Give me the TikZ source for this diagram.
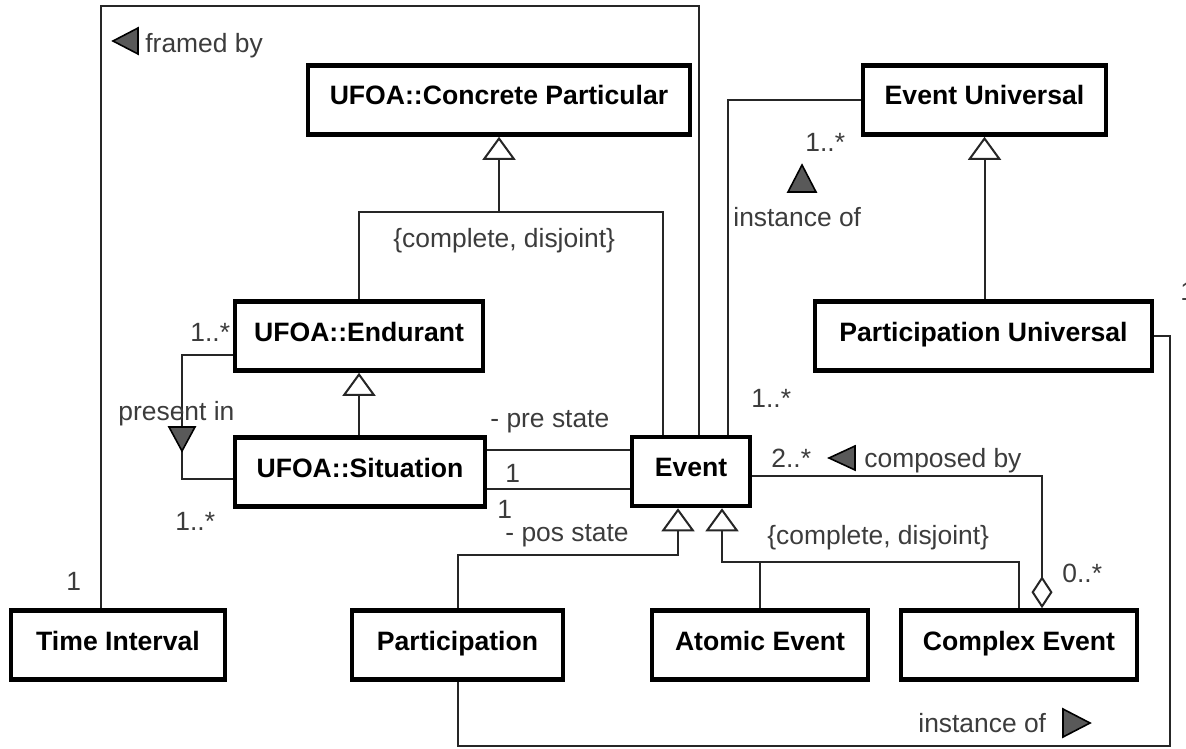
\documentclass[tikz,border=0pt]{standalone}
\usepackage{fontspec}
\setmainfont{Liberation Sans}
\usetikzlibrary{arrows.meta}
\definecolor{lblc}{HTML}{3C3C3C}
\begin{document}
\begin{tikzpicture}[x=0.5pt,y=-0.5pt,
  cls/.style={draw, line width=2.3pt, inner sep=0pt, minimum height=34.5pt,
    text height=9.5pt, text depth=4.5pt,
    font=\fontsize{13.3}{15}\selectfont\bfseries, text=black, fill=white},
  lbl/.style={inner sep=0pt, font=\fontsize{13.2}{15}\selectfont, text=lblc, anchor=base west},
  conn/.style={line width=1pt, draw=black!85},
  gen/.style={conn, -{Triangle[open, width=16.5pt, length=11.5pt, line width=1pt]}},
  agg/.style={conn, -{Diamond[open, width=10.5pt, length=16pt, line width=1pt]}},
  nav/.style={fill=black!65, draw=black, line width=0.8pt, line join=miter}]
\useasboundingbox[fill=white] (0,0) rectangle (1186,748);

% classes
\node[cls, minimum width=191pt]   (cp)      at (499,100)   {UFOA::Concrete Particular};
\node[cls, minimum width=121.5pt] (eu)      at (984.5,100) {Event Universal};
\node[cls, minimum width=168.5pt] (pu)      at (983.5,336) {Participation Universal};
\node[cls, minimum width=124pt]   (endur)   at (359,336)   {UFOA::Endurant};
\node[cls, minimum width=125pt]   (sit)     at (360,472)   {UFOA::Situation};
\node[cls, minimum width=59pt]    (event)   at (691,471.5) {Event};
\node[cls, minimum width=107pt]   (ti)      at (118,645)   {Time Interval};
\node[cls, minimum width=105.5pt] (part)    at (457.5,645) {Participation};
\node[cls, minimum width=108pt]   (atomic)  at (760,645)   {Atomic Event};
\node[cls, minimum width=118pt]   (complex) at (1019,645)  {Complex Event};

% helper coordinates
\coordinate (f1) at (101,6);
\coordinate (f2) at (699,6);
\coordinate (g1) at (499,212);
\coordinate (g1r) at (663,212);
\coordinate (p1) at (182,355);
\coordinate (p2) at (182,479);
\coordinate (s1) at (560,450);
\coordinate (s2) at (560,489);
\coordinate (t1) at (678,555);
\coordinate (t2) at (722,562);
\coordinate (c1) at (1042,476);
\coordinate (i1) at (728,100);
\coordinate (b2) at (1170,745.5);

% framed by
\draw[conn] (ti.north -| f1) -- (f1) -- (f2) -- (event.north -| f2);
% generalization to Concrete Particular
\draw[conn] (endur.north) |- (g1r) -- (event.north -| g1r);
\draw[gen] (g1) -- (cp.south -| g1);
% Situation -> Endurant
\draw[gen] (sit.north -| endur.south) -- (endur.south);
% present in
\draw[conn] (endur.west |- p1) -- (p1) -- (p2) -- (sit.west |- p2);
% pre / pos state
\draw[conn] (sit.east |- s1) -- (event.west |- s1);
\draw[conn] (sit.east |- s2) -- (event.west |- s2);
% Event generalizations
\draw[gen] (part.north) |- (t1) -- (event.south -| t1);
\draw[gen] (complex.north) |- (t2) -- (event.south -| t2);
\draw[conn] (atomic.north) -- (atomic.north |- t2);
% composed by
\draw[agg] (event.east |- c1) -| (complex.north -| c1);
% instance of (Event -> Event Universal)
\draw[conn] (event.north -| i1) |- (eu.west);
% Participation Universal -> Event Universal
\draw[gen] (pu.north -| eu.south) -- (eu.south);
% instance of (Participation -> Participation Universal)
\draw[conn] (part.south) |- (b2) |- (pu.east);

% navigability triangles
\draw[nav] (113,41) -- (138,28) -- (138,54) -- cycle;
\draw[nav] (182,451) -- (169,427) -- (195,427) -- cycle;
\draw[nav] (802,165) -- (788,192) -- (816,192) -- cycle;
\draw[nav] (829,458) -- (855,446) -- (855,470) -- cycle;
\draw[nav] (1090,723) -- (1063,709) -- (1063,737) -- cycle;

% labels
\node[lbl] (lframed) at (145,53)  {framed by};
\node[lbl] (lcd1)    at (393,248) {\{complete, disjoint\}};
\node[lbl] (lm1)     at (190,341) {1..*};
\node[lbl] (lpres)   at (118,420) {present in};
\node[lbl] (lm2)     at (175,530) {1..*};
\node[lbl] (lpre)    at (490,427) {- pre state};
\node[lbl] (lone1)   at (505,482) {1};
\node[lbl] (lone2)   at (497,518) {1};
\node[lbl] (lpos)    at (505,541) {- pos state};
\node[lbl] (lone3)   at (66,590)  {1};
\node[lbl] (lm3)     at (751,407) {1..*};
\node[lbl] (lm4)     at (771,467) {2..*};
\node[lbl] (lcomp)   at (864,467) {composed by};
\node[lbl] (lcd2)    at (767,544) {\{complete, disjoint\}};
\node[lbl] (lm5)     at (1062,582) {0..*};
\node[lbl] (lm6)     at (805,152) {1..*};
\node[lbl] (linst1)  at (733,227) {instance of};
\node[lbl] (linst2)  at (918,732) {instance of};
\node[lbl] (lm7)     at (1180,300) {1..*};
\end{tikzpicture}
\end{document}
